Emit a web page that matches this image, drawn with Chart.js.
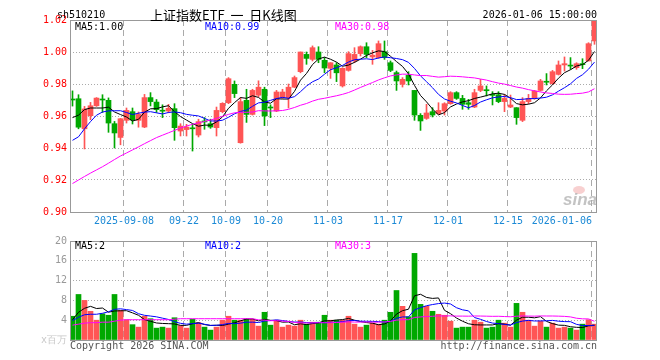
<!DOCTYPE html>
<html>
<head>
<meta charset="utf-8">
<script src="https://cdn.jsdelivr.net/npm/chart.js@4.4.0/dist/chart.umd.min.js"></script>
<style>
    html, body { margin: 0; padding: 0; background: #fff; }
    #wrap { position: relative; width: 660px; height: 360px; }
    #kbox { position: absolute; left: 0; top: 0; width: 660px; height: 232px; }
    #vbox { position: absolute; left: 0; top: 230px; width: 660px; height: 130px; }
</style>
</head>
<body>
<div id="wrap">
    <div id="kbox"><canvas id="kline"></canvas></div>
    <div id="vbox"><canvas id="vol"></canvas></div>
</div>
<script>
// Daily candles, 88 sessions ending 2026-01-06
const opens = [0.9705,0.9708,0.9520,0.9602,0.9664,0.9706,0.9698,0.9552,0.9466,0.9573,
    0.9627,0.9573,0.9531,0.9715,0.9687,0.9635,0.9631,0.9646,0.9506,0.9515,
    0.9525,0.9481,0.9568,0.9552,0.9527,0.9627,0.9683,0.9798,0.9433,0.9698,
    0.9610,0.9730,0.9767,0.9655,0.9631,0.9715,0.9715,0.9780,0.9877,0.9985,
    0.9954,1.0000,0.9948,0.9898,0.9919,0.9788,0.9885,0.9944,0.9990,1.0033,
    0.9969,0.9965,1.0002,0.9933,0.9871,0.9798,0.9854,0.9760,0.9604,0.9585,
    0.9627,0.9615,0.9631,0.9677,0.9746,0.9710,0.9683,0.9656,0.9760,0.9762,
    0.9733,0.9733,0.9690,0.9656,0.9652,0.9573,0.9690,0.9710,0.9760,0.9815,
    0.9802,0.9860,0.9919,0.9915,0.9902,0.9925,0.9944,1.0069];
const highs = [0.9757,0.9733,0.9660,0.9685,0.9715,0.9733,0.9713,0.9566,0.9585,0.9650,
    0.9650,0.9625,0.9735,0.9746,0.9703,0.9670,0.9673,0.9677,0.9552,0.9548,
    0.9548,0.9580,0.9590,0.9580,0.9656,0.9683,0.9840,0.9819,0.9715,0.9767,
    0.9767,0.9820,0.9780,0.9670,0.9760,0.9767,0.9800,0.9850,1.0000,1.0000,
    1.0038,1.0033,0.9965,0.9933,0.9933,0.9902,1.0002,1.0027,1.0038,1.0058,
    1.0010,1.0069,1.0069,0.9944,0.9881,0.9840,0.9877,0.9760,0.9615,0.9673,
    0.9652,0.9683,0.9683,0.9752,0.9752,0.9729,0.9704,0.9767,0.9829,0.9788,
    0.9752,0.9752,0.9735,0.9731,0.9652,0.9715,0.9735,0.9760,0.9829,0.9865,
    0.9885,0.9944,0.9969,0.9965,0.9933,0.9958,1.0058,1.0204];
const lows = [0.9662,0.9520,0.9394,0.9577,0.9660,0.9622,0.9498,0.9400,0.9420,0.9556,
    0.9550,0.9530,0.9527,0.9663,0.9622,0.9590,0.9620,0.9448,0.9475,0.9475,
    0.9381,0.9469,0.9517,0.9523,0.9475,0.9620,0.9677,0.9715,0.9430,0.9560,
    0.9606,0.9720,0.9540,0.9590,0.9627,0.9710,0.9650,0.9777,0.9870,0.9923,
    0.9944,0.9933,0.9871,0.9835,0.9815,0.9781,0.9880,0.9933,0.9975,0.9965,
    0.9923,0.9960,0.9954,0.9877,0.9760,0.9781,0.9794,0.9573,0.9510,0.9579,
    0.9594,0.9610,0.9606,0.9673,0.9704,0.9642,0.9642,0.9652,0.9752,0.9725,
    0.9669,0.9683,0.9627,0.9652,0.9548,0.9565,0.9677,0.9704,0.9756,0.9794,
    0.9798,0.9856,0.9881,0.9892,0.9892,0.9896,0.9944,1.0048];
const closes = [0.9700,0.9530,0.9644,0.9664,0.9712,0.9700,0.9556,0.9494,0.9583,0.9635,
    0.9575,0.9610,0.9715,0.9690,0.9640,0.9630,0.9648,0.9527,0.9537,0.9531,
    0.9520,0.9565,0.9563,0.9531,0.9635,0.9679,0.9833,0.9740,0.9690,0.9610,
    0.9760,0.9780,0.9600,0.9650,0.9750,0.9750,0.9780,0.9840,1.0000,0.9960,
    1.0027,0.9954,0.9900,0.9933,0.9870,0.9898,0.9990,0.9985,1.0033,0.9985,
    0.9980,1.0052,0.9965,0.9885,0.9819,0.9829,0.9819,0.9606,0.9569,0.9619,
    0.9606,0.9635,0.9677,0.9746,0.9710,0.9673,0.9673,0.9746,0.9788,0.9758,
    0.9729,0.9690,0.9710,0.9669,0.9590,0.9690,0.9710,0.9756,0.9819,0.9811,
    0.9877,0.9919,0.9927,0.9912,0.9927,0.9921,1.0052,1.0204];
// volume, millions
const volumes = [4.8,9.2,8.0,5.8,4.0,5.3,5.0,9.2,6.0,4.1,
    3.1,2.6,4.8,4.3,2.4,2.6,2.4,4.5,2.9,2.4,
    4.2,3.5,2.6,2.0,2.6,4.0,4.8,4.0,4.0,4.3,
    4.2,2.8,5.6,3.0,4.0,2.6,3.0,2.8,4.0,3.2,
    3.6,3.6,5.0,4.0,4.0,4.0,4.8,3.2,2.6,3.0,
    3.4,3.2,4.0,5.6,10.0,6.8,4.7,17.5,7.2,6.8,
    5.8,5.2,5.0,3.8,2.4,2.6,2.6,4.0,3.6,2.4,
    2.6,4.0,3.4,2.6,7.4,5.6,4.0,2.8,3.8,2.6,
    3.4,2.4,2.6,2.4,2.0,3.2,4.1,3.2];

// moving-average values for the first sessions, whose history lies left of the chart
const ma5Head = [0.9590,0.9605,0.9640,0.9650];
const ma10Head = [0.9448,0.9470,0.9520,0.9565,0.9605,0.9625,0.9632,0.9633,0.9633];
const ma30Head = [0.9178,0.9200,0.9222,0.9243,0.9263,0.9283,0.9305,0.9328,0.9350,0.9369,
    0.9388,0.9407,0.9427,0.9446,0.9465,0.9480,0.9495,0.9510,0.9525,0.9537,
    0.9548,0.9557,0.9566,0.9575,0.9585,0.9598,0.9610,0.9620,0.9623];
const vma5Head = [4.1,5.6,6.4,6.8];
const vma10Head = [3.9,4.6,5.1,5.2,5.2,5.4,5.7,6.2,6.3];
const vma30Head = [3.0,3.2,3.4,3.5,3.5,3.6,3.6,3.8,4.0,4.1,
    4.1,4.1,4.1,4.1,4.1,4.1,4.1,4.2,4.3,4.3,
    4.3,4.3,4.3,4.3,4.3,4.3,4.3,4.3,4.3];
const volLegend = [2, 2, 3];

const tickIdx = [9, 19, 26, 33, 43, 53, 63, 73, 87];
const tickLabels = ['2025-09-08','09-22','10-09','10-20','11-03','11-17','12-01','12-15','2026-01-06'];
const priceTicks = [0.90, 0.92, 0.94, 0.96, 0.98, 1.00, 1.02];
const volTicks = [0, 4, 8, 12, 16, 20];

const FONT = "'DejaVu Sans Mono', monospace";
const UP = '#ff5555';
const DOWN = '#00a800';
const HALF = 0.4167; // half a slot, so the frame sits 2.5px outside the outer candles

function movingAvg(src, n, head) {
    return src.map((_, i) => {
        if (i < n - 1) return head[i];
        let s = 0;
        for (let k = i - n + 1; k <= i; k++) s += src[k];
        return s / n;
    });
}

const colors = closes.map((c, i) => c >= opens[i] ? UP : DOWN);
const ma5 = movingAvg(closes, 5, ma5Head);
const ma10 = movingAvg(closes, 10, ma10Head);
const ma30 = movingAvg(closes, 30, ma30Head);
const vma5 = movingAvg(volumes, 5, vma5Head);
const vma10 = movingAvg(volumes, 10, vma10Head);
const vma30 = movingAvg(volumes, 30, vma30Head);

const pts = arr => arr.map((v, i) => ({ x: i, y: v }));

function lineSet(values, color) {
    return {
        type: 'line', data: pts(values), borderColor: color, borderWidth: 1,
        pointRadius: 0, tension: 0, order: 1
    };
}

function xAxis(showLabels) {
    return {
        type: 'linear',
        offset: false,
        min: -HALF,
        max: closes.length - 1 + HALF,
        afterBuildTicks: s => { s.ticks = tickIdx.map(v => ({ value: v - HALF })); },
        afterFit: s => { s.height = 20; },
        grid: { color: '#aaa', drawTicks: false, offset: false },
        border: { display: false, dash: [6, 4] },
        ticks: {
            display: showLabels,
            autoSkip: false,
            maxRotation: 0,
            padding: 3,
            color: '#1c8ad6',
            font: { family: FONT, size: 10 },
            // last label ends on its line instead of being centred
            callback: (v, i) => i === tickLabels.length - 1 ? tickLabels[i] + ' '.repeat(tickLabels[i].length) : tickLabels[i]
        }
    };
}

function text(ctx, str, x, y, color, font, align) {
    ctx.save();
    ctx.fillStyle = color;
    ctx.font = font;
    ctx.textAlign = align || 'left';
    ctx.textBaseline = 'middle';
    ctx.fillText(str, x, y);
    ctx.restore();
}

function frame(chart) {
    const a = chart.chartArea;
    const ctx = chart.ctx;
    ctx.save();
    ctx.strokeStyle = '#999';
    ctx.lineWidth = 1;
    ctx.strokeRect(Math.round(a.left) + 0.5, Math.round(a.top) + 0.5,
        Math.round(a.right - a.left) - 1, Math.round(a.bottom - a.top));
    ctx.restore();
}

const mono = '10px ' + FONT;
const last = closes.length - 1;

const klineDecor = {
    id: 'klineDecor',
    beforeDatasetsDraw(chart) {
        const ctx = chart.ctx;
        // sina watermark
        ctx.save();
        ctx.fillStyle = 'rgba(240,150,150,0.45)';
        ctx.beginPath();
        ctx.ellipse(579, 190, 6, 4, 0, 0, Math.PI * 2);
        ctx.fill();
        ctx.restore();
        text(ctx, 'sina', 580, 200, 'rgba(170,170,170,0.7)', 'italic bold 17px Arial, sans-serif', 'center');
    },
    afterDraw(chart) {
        const ctx = chart.ctx;
        frame(chart);
        text(ctx, 'sh510210', 57, 15, '#000', mono);
        text(ctx, '上证指数ETF  一  日K线图', 150, 15, '#000', "13px 'Noto Sans CJK SC', sans-serif");
        text(ctx, '2026-01-06 15:00:00', 597, 15, '#000', mono, 'right');
        text(ctx, 'MA5:' + ma5[last].toFixed(2), 75, 27, '#000', mono);
        text(ctx, 'MA10:' + ma10[last].toFixed(2), 205, 27, '#0000ff', mono);
        text(ctx, 'MA30:' + ma30[last].toFixed(2), 335, 27, '#ff00ff', mono);
    }
};

const volDecor = {
    id: 'volDecor',
    afterDraw(chart) {
        const ctx = chart.ctx;
        frame(chart);
        text(ctx, 'MA5:' + volLegend[0], 75, 16, '#000', mono);
        text(ctx, 'MA10:' + volLegend[1], 205, 16, '#0000ff', mono);
        text(ctx, 'MA30:' + volLegend[2], 335, 16, '#ff00ff', mono);
        text(ctx, 'Copyright 2026 SINA.COM', 70, 116, '#555', mono);
        text(ctx, 'http://finance.sina.com.cn', 597, 116, '#555', mono, 'right');
    }
};

const common = {
    responsive: true,
    maintainAspectRatio: false,
    animation: false,
    devicePixelRatio: 1,
    plugins: { legend: { display: false }, tooltip: { enabled: false } }
};

new Chart(document.getElementById('kline'), {
    type: 'bar',
    data: {
        datasets: [
            {
                data: closes.map((c, i) => ({ x: i, y: [lows[i], highs[i]] })),
                backgroundColor: colors, barThickness: 1, grouped: false, order: 3
            },
            {
                data: closes.map((c, i) => ({ x: i, y: [opens[i], c] })),
                backgroundColor: colors, barThickness: 5, minBarLength: 1, grouped: false, order: 2
            },
            lineSet(ma30, '#ff00ff'),
            lineSet(ma10, '#0000ff'),
            lineSet(ma5, '#000000')
        ]
    },
    options: {
        ...common,
        layout: { padding: { left: 0, right: 63, top: 20, bottom: 0 } },
        scales: {
            x: xAxis(true),
            y: {
                min: 0.90,
                max: 1.02,
                afterBuildTicks: s => { s.ticks = priceTicks.map(v => ({ value: v })); },
                afterFit: s => { s.width = 70; },
                grid: { color: '#aaa', drawTicks: false },
                border: { display: false, dash: [1, 2] },
                ticks: {
                    color: '#ff0000', padding: 3,
                    font: { family: FONT, size: 10 },
                    callback: v => v.toFixed(2)
                }
            }
        }
    },
    plugins: [klineDecor]
});

new Chart(document.getElementById('vol'), {
    type: 'bar',
    data: {
        datasets: [
            {
                data: volumes.map((v, i) => ({ x: i, y: v })),
                backgroundColor: colors, barThickness: 5, grouped: false, order: 2
            },
            lineSet(vma30, '#ff00ff'),
            lineSet(vma10, '#0000ff'),
            lineSet(vma5, '#000000')
        ]
    },
    options: {
        ...common,
        layout: { padding: { left: 0, right: 63, top: 11, bottom: 0 } },
        scales: {
            x: xAxis(false),
            y: {
                min: 0,
                max: 20,
                afterBuildTicks: s => { s.ticks = volTicks.map(v => ({ value: v })); },
                afterFit: s => { s.width = 70; },
                grid: { color: '#aaa', drawTicks: false },
                border: { display: false, dash: [1, 2] },
                ticks: {
                    padding: 3,
                    font: { family: FONT, size: 10 },
                    color: c => c.tick && c.tick.value === 0 ? '#c8c8c8' : '#999',
                    callback: v => v === 0 ? 'x百万' : String(v)
                }
            }
        }
    },
    plugins: [volDecor]
});
</script>
</body>
</html>
